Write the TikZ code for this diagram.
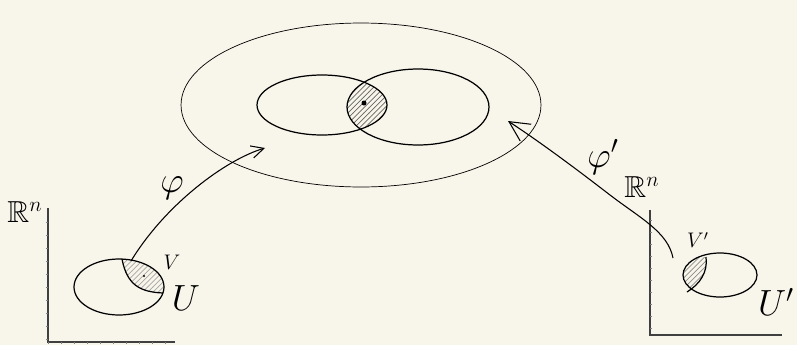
\documentclass[tikz,border=0pt]{standalone}
\usepackage{amsmath,amssymb}
\usetikzlibrary{shapes.geometric,patterns,positioning,arrows.meta}
\definecolor{paper}{HTML}{F8F5EA}

\begin{document}
\begin{tikzpicture}[x=0.02cm,y=-0.02cm,
  blob/.style={draw, ellipse, inner sep=0pt, line width=0.7pt},
  axis/.style={draw=black!75, line width=0.6pt},
  tick/.style={draw=black!50, line width=0.4pt},
  map/.style={-{Straight Barb[length=2.5mm,width=2.5mm]}, line width=0.6pt}]
  \fill[paper] (0,0) rectangle (797,345);
  \useasboundingbox (0,0) rectangle (797,345);

  % the manifold and two charts
  \node[blob, line width=0.4pt, minimum width=7.2cm, minimum height=3.28cm] (M) at (361,105) {};
  \begin{scope}
    \clip (322,105) ellipse (65 and 30);
    \fill[pattern=north east lines, pattern color=black!60] (418,107) ellipse (71 and 38);
  \end{scope}
  \node[blob, minimum width=2.6cm, minimum height=1.2cm] (left) at (322,105) {};
  \node[blob, minimum width=2.84cm, minimum height=1.52cm] (right) at (418,107) {};
  \fill (364,103) circle (2.5);

  % left chart domain
  \draw[axis] (48,208) -- (48,342) -- (175,342);
  \foreach \t in {0,...,9} \draw[tick] (48+13*\t,342) -- ++(0,2);
  \foreach \t in {0,...,9} \draw[tick] (48,222+13*\t) -- ++(-2,0);
  \node[font=\LARGE] (Rl) at (25,212) {$\mathbb{R}^n$};
  \begin{scope}
    \clip (119,287) ellipse (45 and 28);
    \fill[pattern=north east lines, pattern color=black!35]
      (122,259) .. controls (127,285) and (140,292) .. (163,293) -- (170,293) -- (170,250) -- cycle;
  \end{scope}
  \node[blob, minimum width=1.8cm, minimum height=1.12cm] (U) at (119,287) {};
  \draw[line width=0.7pt] (122,259) .. controls (127,285) and (140,292) .. (163,293);
  \fill (144,276) circle (1.2);
  \node[font=\large] (V) at (172,262) {$V$};
  \node[font=\huge] (Ul) at (186,298) {$U$};

  % right chart domain
  \draw[axis] (650,210) -- (650,335) -- (782,335);
  \foreach \t in {0,...,9} \draw[tick] (650,220+12*\t) -- ++(2,0);
  \node[font=\LARGE] (Rr) at (642,187) {$\mathbb{R}^n$};
  \begin{scope}
    \clip (720,275) ellipse (37 and 22);
    \fill[pattern=north east lines, pattern color=black!45]
      (706,257) .. controls (708,272) and (700,284) .. (687,292) -- (680,292) -- (680,257) -- cycle;
  \end{scope}
  \node[blob, minimum width=1.48cm, minimum height=0.88cm] (Ur) at (720,275) {};
  \draw[line width=0.7pt] (706,257) .. controls (708,272) and (700,284) .. (687,292);
  \node[font=\large] (Vr) at (698,240) {$V'$};
  \node[font=\huge] (Ur') at (776,302) {$U'$};

  % the chart maps
  \coordinate (phiA) at (131,261);
  \coordinate (phiB) at (265,148);
  \draw[map] (phiA) .. controls (165,205) and (225,160) .. (phiB);
  \node[font=\huge] (phi) at (172,188) {$\varphi$};
  \coordinate (psiA) at (673,258);
  \coordinate (psiB) at (508,121);
  \draw[map, -{Straight Barb[length=4mm,width=4mm]}] (psiA) .. controls (668,232) and (640,218) .. (610,195)
    .. controls (575,168) and (540,142) .. (psiB);
  \node[font=\huge] (psi) at (603,157) {$\varphi'$};
\end{tikzpicture}
\end{document}
